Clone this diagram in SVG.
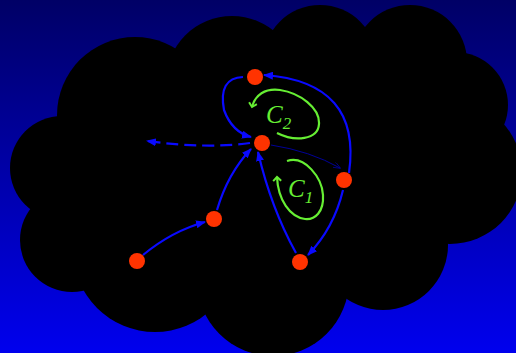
<svg xmlns="http://www.w3.org/2000/svg" width="516" height="353" viewBox="0 0 516 353">
<defs>
<linearGradient id="bg" x1="0" y1="0" x2="0" y2="1">
<stop offset="0" stop-color="#000066"/>
<stop offset="1" stop-color="#0000ee"/>
</linearGradient>
<marker id="ah" viewBox="0 0 10 8" refX="9" refY="4" markerWidth="10" markerHeight="8" markerUnits="userSpaceOnUse" orient="auto">
<path d="M0,0 L10,4 L0,8 z" fill="#0a0aff"/>
</marker>
<marker id="ahThin" viewBox="0 0 10 8" refX="9" refY="4" markerWidth="8" markerHeight="6" markerUnits="userSpaceOnUse" orient="auto">
<path d="M0,0 L10,4 L0,8" fill="none" stroke="#000099" stroke-width="1"/>
</marker>
<marker id="gh" viewBox="0 0 10 10" refX="5" refY="5" markerWidth="10" markerHeight="10" markerUnits="userSpaceOnUse" orient="auto">
<path d="M1,1 L5,5 L1,9" fill="none" stroke="#66ee33" stroke-width="2"/>
</marker>
</defs>
<style>
.e{fill:none;stroke:#0a0aff;stroke-width:2.2}
.g{fill:none;stroke:#66ee33;stroke-width:2.2}
.n{fill:#ff3300}
.lbl{font-family:"Liberation Serif",serif;font-style:italic;fill:#66ee33}
</style>
<rect width="516" height="353" fill="url(#bg)"/>
<g id="cloud" fill="#000">
<circle cx="135" cy="115" r="78"/>
<circle cx="232" cy="82" r="66"/>
<circle cx="320" cy="62" r="57"/>
<circle cx="410" cy="62" r="57"/>
<circle cx="455" cy="105" r="53"/>
<circle cx="450" cy="172" r="72"/>
<circle cx="383" cy="245" r="65"/>
<circle cx="273" cy="280" r="76"/>
<circle cx="155" cy="250" r="82"/>
<circle cx="72" cy="240" r="52"/>
<circle cx="62" cy="168" r="52"/>
<circle cx="265" cy="170" r="125"/>
<circle cx="360" cy="150" r="100"/>
</g>
<g id="connectors">
<path class="e" d="M143,255 Q172,231 205,222" marker-end="url(#ah)"/>
<path class="e" d="M217,210 Q228,173 251,149" marker-end="url(#ah)"/>
<path class="e" d="M296,253 Q271,208 258,152" marker-end="url(#ah)"/>
<path class="e" d="M343,190 Q334,228 308,255" marker-end="url(#ah)"/>
<path class="e" d="M349,173 Q362,82 264,75" marker-end="url(#ah)"/>
<path class="e" d="M243,77 Q218,78 224,110 Q232,132 251,137" marker-end="url(#ah)"/>
<path class="e" d="M250,143 Q205,149 147,141" stroke-dasharray="12,6" marker-end="url(#ah)"/>
<path d="M271,145 Q310,151 340,168" fill="none" stroke="#000099" stroke-width="1" marker-end="url(#ahThin)"/>
<path class="g" d="M277,133 C295,142 318,140 319,124 C320,108 300,93 280,90 C265,88 255,95 252,107" marker-end="url(#gh)"/>
<path class="g" d="M287,161 C305,155 322,178 323,195 C324,212 315,220 305,219 C290,217 278,200 277,177" marker-end="url(#gh)"/>
</g>
<g id="nC2"><text class="lbl" x="266" y="123" font-size="25">C<tspan font-size="17" dy="6">2</tspan></text></g>
<g id="nC1"><text class="lbl" x="288" y="197" font-size="25">C<tspan font-size="17" dy="6">1</tspan></text></g>
<g id="nA"><circle class="n" cx="255" cy="77" r="8"/></g>
<g id="nB"><circle class="n" cx="262" cy="143" r="8"/></g>
<g id="nC"><circle class="n" cx="344" cy="180" r="8"/></g>
<g id="nD"><circle class="n" cx="300" cy="262" r="8"/></g>
<g id="nE"><circle class="n" cx="214" cy="219" r="8"/></g>
<g id="nF"><circle class="n" cx="137" cy="261" r="8"/></g>
</svg>
